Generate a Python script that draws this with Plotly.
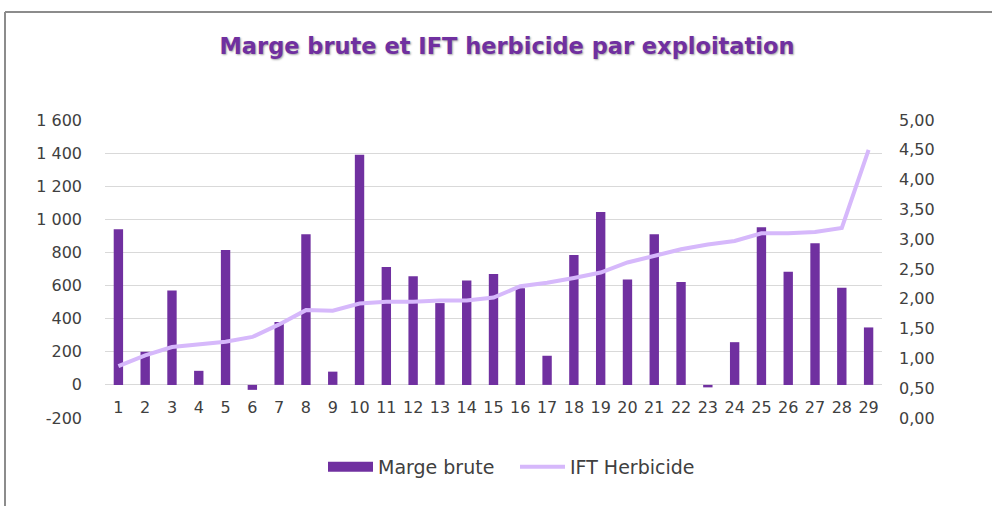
import plotly.graph_objects as go

categories = [str(i) for i in range(1, 30)]
marge_brute = [940, 200, 570, 85, 815, -30, 380, 910, 80, 1390,
               712, 656, 494, 630, 670, 583, 176, 785, 1045, 636,
               910, 622, -15, 258, 952, 684, 856, 587, 347]
ift_herbicide = [0.87, 1.05, 1.19, 1.24, 1.28, 1.36, 1.57, 1.81, 1.80, 1.92,
                 1.95, 1.95, 1.97, 1.97, 2.02, 2.21, 2.27, 2.35, 2.44, 2.61,
                 2.72, 2.83, 2.91, 2.97, 3.10, 3.10, 3.12, 3.19, 4.50]
left_ticks = [-200, 0, 200, 400, 600, 800, 1000, 1200, 1400, 1600]
left_labels = ["-200", "0", "200", "400", "600", "800", "1 000", "1 200", "1 400", "1 600"]
right_ticks = [0, 0.5, 1, 1.5, 2, 2.5, 3, 3.5, 4, 4.5, 5]

OFF = 0  # page body margin removed via post_script
W, H = 992, 506
PL, PT, PW, PH = 105, 120, 777, 298  # desired plot area on the page
L, T = PL - OFF, PT - OFF
R, B = W - L - PW, H - T - PH

def px_x(x):
    return (x - PL) / PW

def px_y(y):
    return (PT + PH - y) / PH

FONT = "DejaVu Sans"
TXT = "#404040"
BAR_C = "#7030a0"
LINE_C = "#d6b8fb"

fig = go.Figure()
fig.add_trace(go.Bar(x=categories, y=marge_brute, name="Marge brute",
                     marker=dict(color=BAR_C, line=dict(width=0)), yaxis="y",
                     showlegend=False, legendgroup="mb"))
# legend swatch for the bars (wide rectangle as in the reference)
fig.add_trace(go.Scatter(x=[None], y=[None], name="Marge brute", mode="lines",
                         line=dict(color=BAR_C, width=10), legendgroup="mb",
                         hoverinfo="skip"))
fig.add_trace(go.Scatter(x=categories, y=ift_herbicide, name="IFT Herbicide",
                         mode="lines", line=dict(color=LINE_C, width=4),
                         yaxis="y2"))

zero_pos = (0 - (-200)) / (1600 - (-200))

fig.update_layout(
    width=W, height=H,
    margin=dict(l=L, r=R, t=T, b=B),
    paper_bgcolor="white", plot_bgcolor="white",
    separators=", ",
    bargap=0.65,
    title=dict(text="<b>Marge brute et IFT herbicide par exploitation</b>",
               x=(507 - OFF) / W, xanchor="center", y=1 - (46 - OFF) / H,
               yanchor="middle",
               font=dict(family=FONT, size=22.5, color=BAR_C,
                         shadow="1px 1px 2px rgba(0,0,0,0.35)")),
    xaxis=dict(type="category", anchor="free", position=zero_pos,
               showgrid=False, showline=False, zeroline=False,
               ticks="", ticklabelstandoff=11,
               tickfont=dict(family=FONT, size=16, color=TXT)),
    yaxis=dict(range=[-200, 1600], tickvals=left_ticks, ticktext=left_labels,
               showgrid=True, gridcolor="#d9d9d9", gridwidth=1,
               zeroline=True, zerolinecolor="#d9d9d9", zerolinewidth=1,
               showline=False, ticks="", ticklabelstandoff=22,
               tickfont=dict(family=FONT, size=16, color=TXT)),
    yaxis2=dict(range=[0, 5], tickvals=right_ticks, tickformat=".2f",
                overlaying="y", side="right", showgrid=False, zeroline=False,
                showline=False, ticks="", ticklabelstandoff=16,
                tickfont=dict(family=FONT, size=16, color=TXT)),
    legend=dict(orientation="h", x=px_x(515), xanchor="center",
                y=px_y(467), yanchor="middle",
                font=dict(family=FONT, size=19, color=TXT),
                itemwidth=45, entrywidth=132),
    showlegend=True,
)

# outer chart border (top and left edges visible in the reference)
fig.add_shape(type="line", xref="paper", yref="paper",
              x0=px_x(5), x1=px_x(1000), y0=px_y(12), y1=px_y(12),
              line=dict(color="#8c8c8c", width=2))
fig.add_shape(type="line", xref="paper", yref="paper",
              x0=px_x(5), x1=px_x(5), y0=px_y(12), y1=px_y(520),
              line=dict(color="#8c8c8c", width=2))

fig.write_html("out.html", config={"displayModeBar": False},
               post_script="document.body.style.margin='0px';document.body.style.padding='0px';")
